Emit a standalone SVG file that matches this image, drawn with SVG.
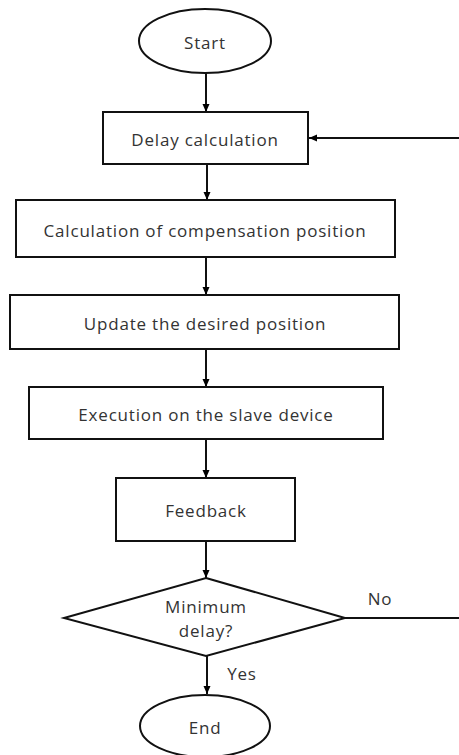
<svg xmlns="http://www.w3.org/2000/svg" width="459" height="755" viewBox="0 0 459 755">
<defs>
<marker id="ah" markerWidth="10" markerHeight="10" refX="9" refY="5" orient="auto" markerUnits="userSpaceOnUse">
<path d="M1,1.5 L9,5 L1,8.5 Z" fill="#000"/>
</marker>
<style>
.s{fill:#fff;stroke:#111;stroke-width:2}
.t{font-family:"Open Sans","Noto Sans",sans-serif;font-size:17px;letter-spacing:0.8px;fill:#333;text-anchor:middle;dominant-baseline:central}
.c{fill:none;stroke:#111;stroke-width:2}
</style>
</defs>
<rect width="459" height="755" fill="#fff"/>
<g id="connectors">
<line class="c" x1="206" y1="73" x2="206" y2="112" marker-end="url(#ah)"/>
<line class="c" x1="207" y1="164" x2="207" y2="200" marker-end="url(#ah)"/>
<line class="c" x1="206" y1="257" x2="206" y2="295" marker-end="url(#ah)"/>
<line class="c" x1="206" y1="349" x2="206" y2="387" marker-end="url(#ah)"/>
<line class="c" x1="206" y1="439" x2="206" y2="478" marker-end="url(#ah)"/>
<line class="c" x1="206" y1="541" x2="206" y2="578" marker-end="url(#ah)"/>
<line class="c" x1="207" y1="656" x2="207" y2="694" marker-end="url(#ah)"/>
<line class="c" x1="345" y1="618" x2="459" y2="618"/>
<line class="c" x1="459" y1="138" x2="309" y2="138" marker-end="url(#ah)"/>
<text class="t" x="380" y="598">No</text>
<text class="t" x="242" y="673">Yes</text>
</g>
<g id="start">
<ellipse class="s" cx="205" cy="41" rx="66" ry="32"/>
<text class="t" x="205" y="42">Start</text>
</g>
<g id="delay">
<rect class="s" x="103" y="112" width="205" height="52"/>
<text class="t" x="205" y="139">Delay calculation</text>
</g>
<g id="comp">
<rect class="s" x="16" y="200" width="379" height="57"/>
<text class="t" x="205" y="230">Calculation of compensation position</text>
</g>
<g id="update">
<rect class="s" x="10" y="295" width="389" height="54"/>
<text class="t" x="205" y="323">Update the desired position</text>
</g>
<g id="exec">
<rect class="s" x="29" y="387" width="354" height="52"/>
<text class="t" x="206" y="414">Execution on the slave device</text>
</g>
<g id="feedback">
<rect class="s" x="116" y="478" width="179" height="63"/>
<text class="t" x="206" y="510">Feedback</text>
</g>
<g id="decision">
<polygon class="s" points="206,578 345,618 206,656 64,618"/>
<text class="t" x="206" y="606">Minimum</text>
<text class="t" x="206" y="630">delay?</text>
</g>
<g id="end">
<ellipse class="s" cx="205" cy="726" rx="65" ry="31"/>
<text class="t" x="205" y="727">End</text>
</g>
</svg>
